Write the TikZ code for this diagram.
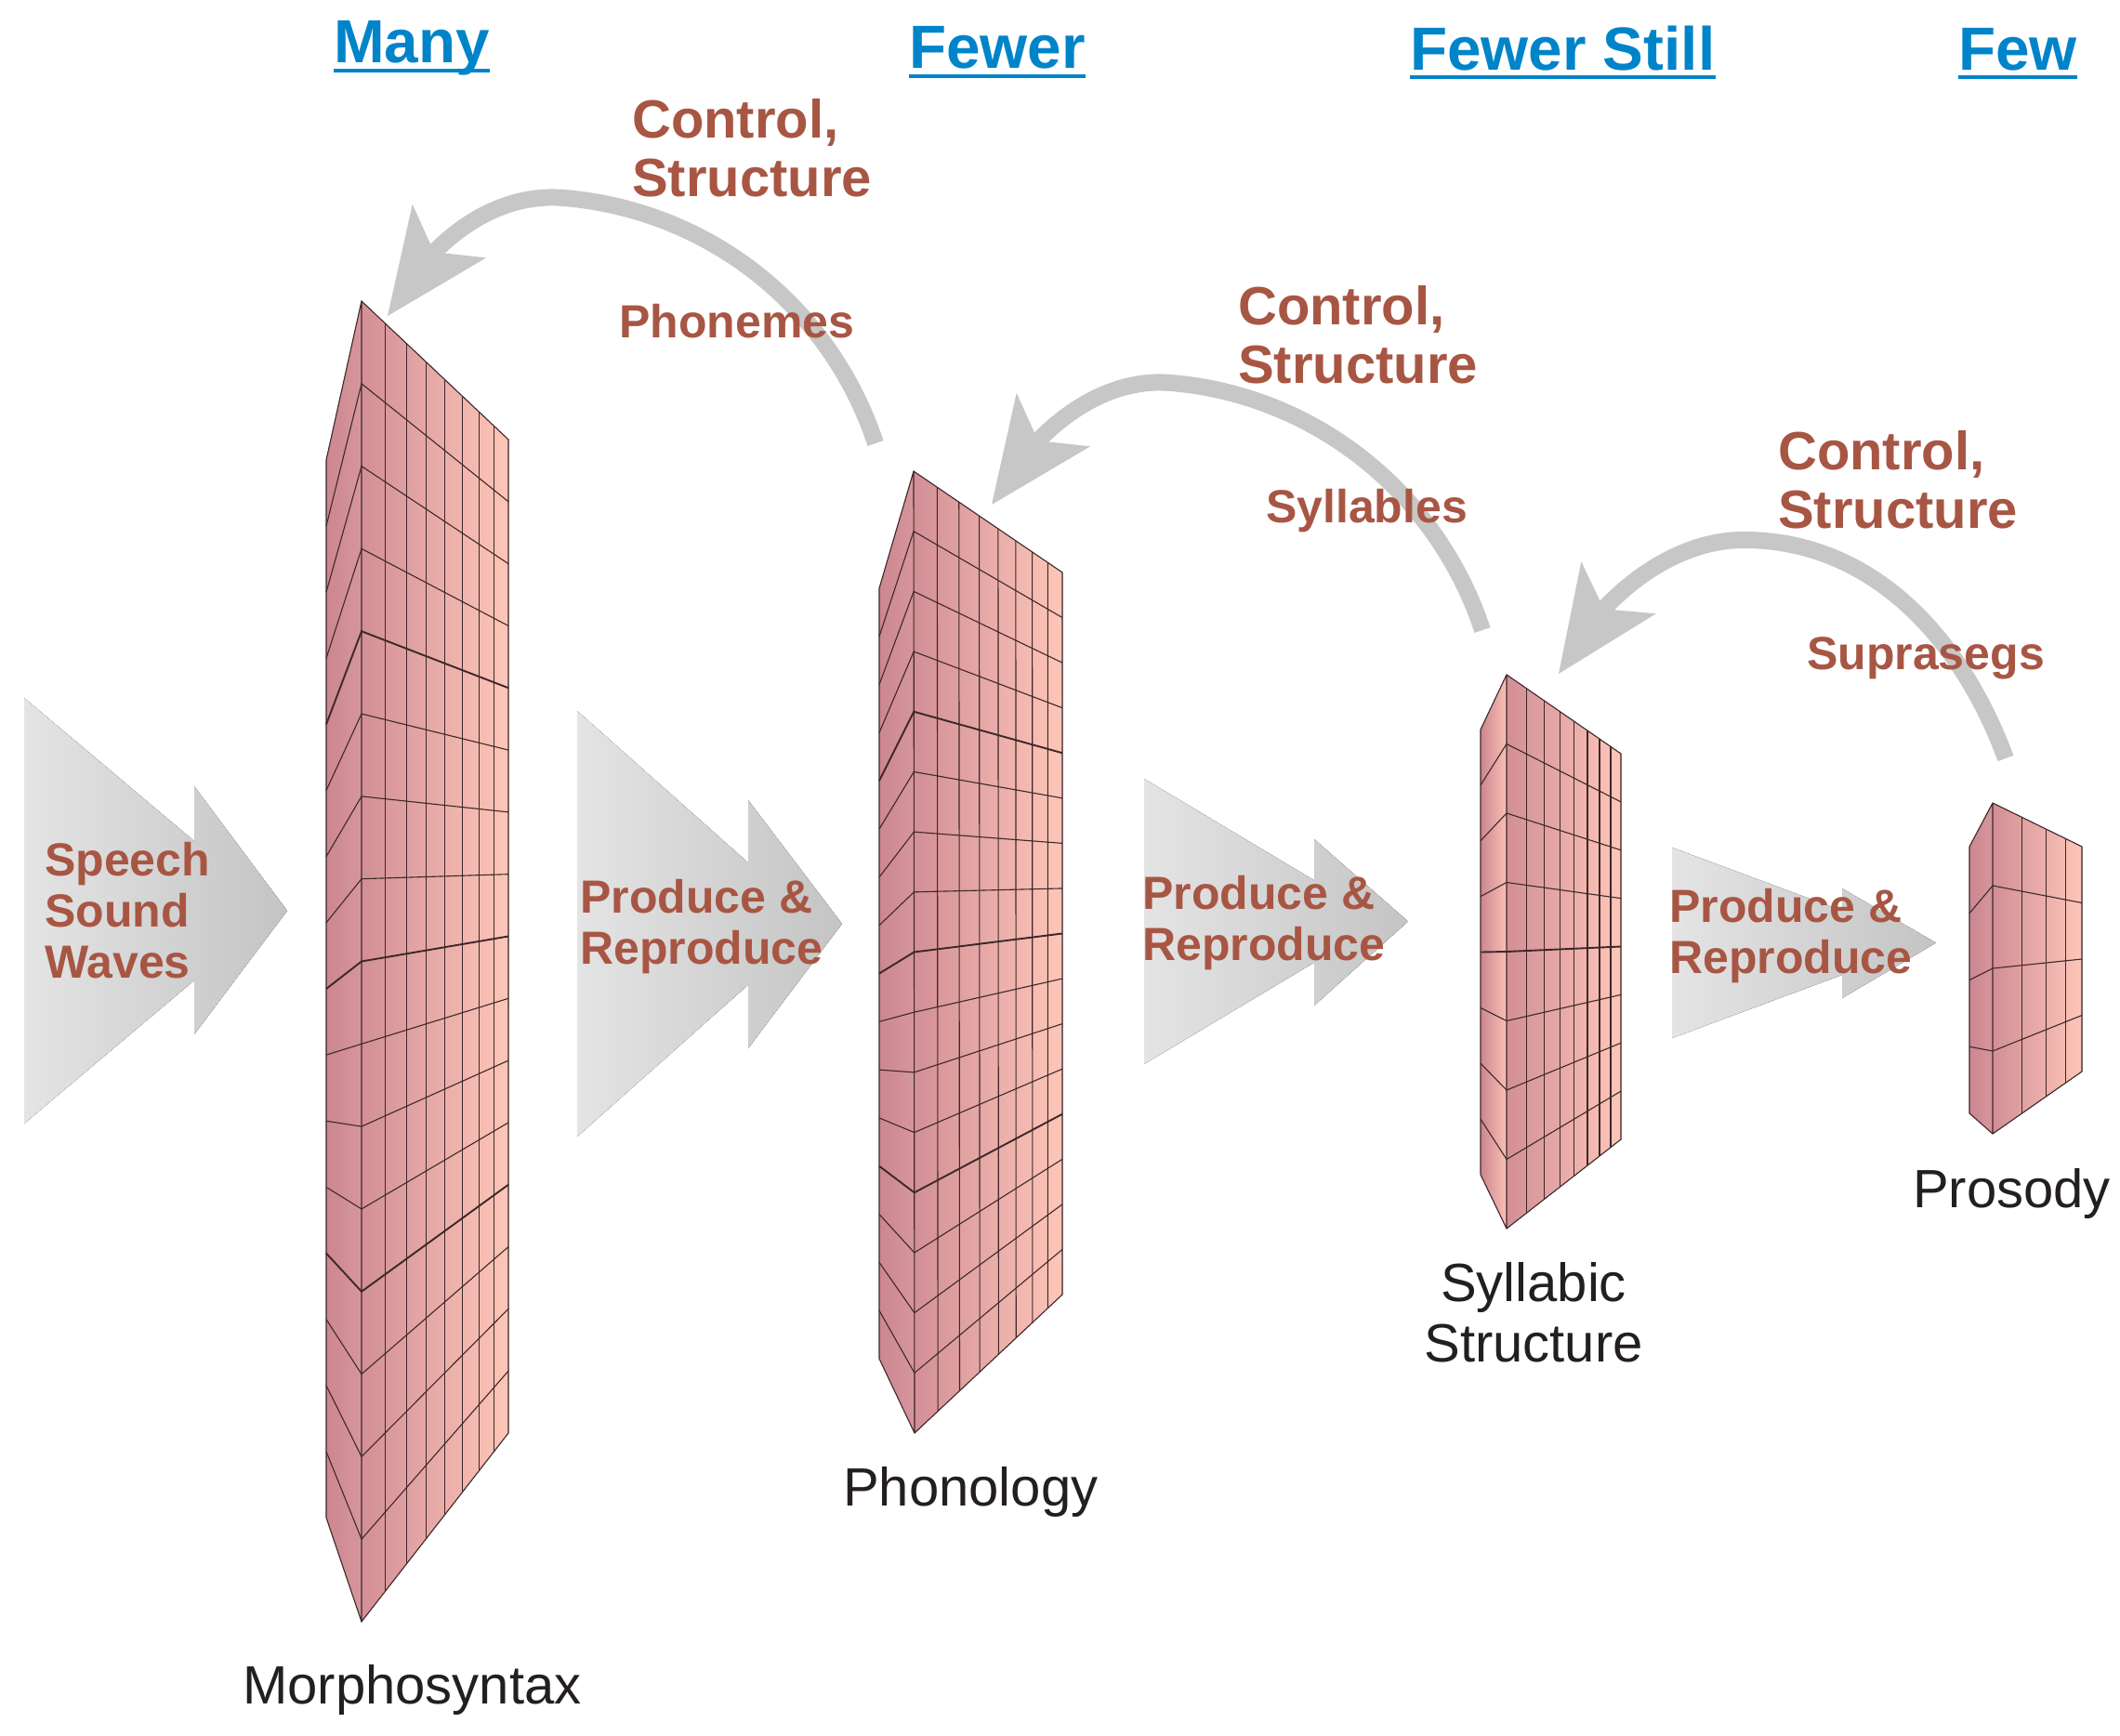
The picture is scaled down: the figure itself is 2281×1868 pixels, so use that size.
\documentclass[tikz,border=0pt]{standalone}
\usepackage{fontspec}
\setmainfont{Liberation Sans}
\usetikzlibrary{arrows.meta,bending,calc}
\definecolor{headblue}{RGB}{0,132,201}
\definecolor{labelbrown}{RGB}{168,86,68}
\definecolor{labelblack}{RGB}{35,31,32}
\definecolor{loopgray}{RGB}{199,199,199}
\definecolor{chevL}{RGB}{228,228,228}
\definecolor{chevR}{RGB}{196,196,196}
\definecolor{sideL}{RGB}{204,134,143}
\definecolor{sideR}{RGB}{214,150,156}
\definecolor{sidelight}{RGB}{250,192,182}
\definecolor{faceL}{RGB}{210,143,150}
\definecolor{faceR}{RGB}{254,198,184}
\definecolor{meshcol}{RGB}{60,40,42}
\tikzset{
  headword/.style={text=headblue, font=\fontsize{65.6}{70}\selectfont\bfseries,
    inner sep=0pt, anchor=base west},
  underbar/.style={draw=headblue, line width=4pt},
  ctrltext/.style={text=labelbrown, font=\fontsize{58}{63}\selectfont\bfseries,
    inner sep=0pt, anchor=base west, align=left},
  unittext/.style={text=labelbrown, font=\fontsize{50}{55}\selectfont\bfseries,
    inner sep=0pt, anchor=base west, align=left},
  levelname/.style={text=labelblack, font=\fontsize{58}{65}\selectfont,
    inner sep=0pt, anchor=base west, align=center},
  chevron/.style={left color=chevL, right color=chevR},
  feedback/.style={draw=loopgray, line width=18pt,
    -{Stealth[length=113pt, width=98pt, inset=28pt, line width=0pt, flex]}},
  meshline/.style={draw=meshcol, line width=1.1pt},
}
% one perspective block: #1 name, #2 columns, #3 rows, #4 foreshortening, #5 side colour at the corner
\newcommand\prism[5]{%
  \fill[left color=sideL, right color=#5] (#1-tl) -- (#1-tc) -- (#1-bc) -- (#1-bl) -- cycle;
  \fill[left color=faceL, right color=faceR] (#1-tc) -- (#1-tr) -- (#1-br) -- (#1-bc) -- cycle;
  \pgfmathtruncatemacro\lastcol{#2-1}%
  \foreach \j in {1,...,\lastcol}{%
    \pgfmathsetmacro\colfrac{(\j/#2)/((\j/#2)+#4*(1-\j/#2))}%
    \draw[meshline] ($(#1-tc)!\colfrac!(#1-tr)$) -- ($(#1-bc)!\colfrac!(#1-br)$);
  }%
  \pgfmathtruncatemacro\lastrow{#3-1}%
  \foreach \i in {1,...,\lastrow}{%
    \pgfmathsetmacro\rowfrac{\i/#3}%
    \pgfmathsetmacro\rowwidth{mod(\i,4)==0 ? 1.9 : 1.1}%
    \draw[meshline, line width=\rowwidth pt] ($(#1-tl)!\rowfrac!(#1-bl)$)
      -- ($(#1-tc)!\rowfrac!(#1-bc)$) -- ($(#1-tr)!\rowfrac!(#1-br)$);
  }%
  \draw[meshline] (#1-tl) -- (#1-tc) -- (#1-tr) -- (#1-br) -- (#1-bc) -- (#1-bl) -- cycle
    (#1-tc) -- (#1-bc);
}

\begin{document}
\begin{tikzpicture}[x=1pt, y=-1pt]
  \useasboundingbox[fill=white] (0,0) rectangle (2281,1868);

  % grey double chevrons: left x / top / bottom / big tip / small left / small top / small bottom / tip
  \foreach \xl/\yt/\yb/\xb/\xs/\yst/\ysb/\xt in {26/751/1209/298/209/846/1113/309,
      621/765/1223/879/805/861/1128/906, 1231/838/1145/1488/1414/903/1082/1515,
      1799/912/1117/2075/1982/956/1074/2083} {
    \pgfmathsetmacro\yc{(\yt+\yb)/2}
    \pgfmathsetmacro\cut{(\xs-\xl)/(\xb-\xl)}
    \pgfmathsetmacro\ya{\yt+\cut*(\yc-\yt)}
    \pgfmathsetmacro\yz{\yb-\cut*(\yb-\yc)}
    \fill[chevron] (\xl,\yt) -- (\xs,\ya) -- (\xs,\yst) -- (\xt,\yc) -- (\xs,\ysb)
      -- (\xs,\yz) -- (\xl,\yb) -- cycle;
  }

  % the four blocks
  \coordinate (morph-tl) at (351,495);  \coordinate (morph-tc) at (389,324);  \coordinate (morph-tr) at (547,473);
  \coordinate (morph-bl) at (351,1633); \coordinate (morph-bc) at (389,1745); \coordinate (morph-br) at (547,1542);
  \coordinate (phon-tl) at (946,633);   \coordinate (phon-tc) at (983,507);   \coordinate (phon-tr) at (1143,616);
  \coordinate (phon-bl) at (946,1462);  \coordinate (phon-bc) at (984,1542);  \coordinate (phon-br) at (1143,1393);
  \coordinate (syl-tl) at (1593,785);   \coordinate (syl-tc) at (1621,726);   \coordinate (syl-tr) at (1744,811);
  \coordinate (syl-bl) at (1593,1264);  \coordinate (syl-bc) at (1621,1322);  \coordinate (syl-br) at (1744,1226);
  \coordinate (pros-tl) at (2119,911);  \coordinate (pros-tc) at (2144,864);  \coordinate (pros-tr) at (2240,911);
  \coordinate (pros-bl) at (2119,1198); \coordinate (pros-bc) at (2144,1220); \coordinate (pros-br) at (2240,1153);
  \prism{morph}{8}{16}{0.757}{sideR}
  \prism{phon}{8}{16}{0.76}{sideR}
  \prism{syl}{8}{8}{0.69}{sidelight}
  \prism{pros}{4}{4}{0.68}{sideR}

  % feedback loops
  \coordinate (phon-up) at (942,477);   \coordinate (morph-in) at (417,340);
  \coordinate (syl-up) at (1595,678);   \coordinate (phon-in) at (1067,543);
  \coordinate (pros-up) at (2158,816);  \coordinate (syl-in) at (1677,725);
  \draw[feedback] (phon-up) .. controls +(-49,-148) and +(155,13) .. (607,213)
    .. controls +(-80,-7) and +(40,-75) .. (morph-in);
  \draw[feedback] (syl-up) .. controls +(-49,-148) and +(155,13) .. (1260,412)
    .. controls +(-80,-7) and +(40,-75) .. (phon-in);
  \draw[feedback] (pros-up) .. controls +(-48,-130) and +(138,0) .. (1876,581)
    .. controls +(-80,0) and +(40,-80) .. (syl-in);

  % headings
  \foreach \hname/\hword/\hx/\hy in {many/Many/359/68, fewer/Fewer/978/74,
      fewerstill/{Fewer Still}/1517/75, few/Few/2107/75} {
    \node[headword] (\hname) at (\hx,\hy) {\hword};
    \draw[underbar] ($(\hname.base west)+(0,8)$) -- ($(\hname.base east)+(0,8)$);
  }

  % brown labels (base = last line)
  \node[ctrltext] (ctrl-phon) at (680,211) {Control,\\Structure};
  \node[ctrltext] (ctrl-syl) at (1332,412) {Control,\\Structure};
  \node[ctrltext] (ctrl-pros) at (1913,568) {Control,\\Structure};
  \node[unittext] (phonemes) at (666,363) {Phonemes};
  \node[unittext] (syllables) at (1362,562) {Syllables};
  \node[unittext] (suprasegs) at (1944,720) {Suprasegs};
  \node[unittext] (speech) at (48,1052) {Speech\\Sound\\Waves};
  \node[unittext] (prod-a) at (624,1037) {Produce \&\\Reproduce};
  \node[unittext] (prod-b) at (1229,1033) {Produce \&\\Reproduce};
  \node[unittext] (prod-c) at (1796,1047) {Produce \&\\Reproduce};

  % level names
  \node[levelname] (morph-name) at (261,1833) {Morphosyntax};
  \node[levelname] (phon-name) at (907,1620) {Phonology};
  \node[levelname, anchor=base] (syl-name) at (1650,1465) {Syllabic\\Structure};
  \node[levelname] (pros-name) at (2058,1299) {Prosody};
\end{tikzpicture}
\end{document}
